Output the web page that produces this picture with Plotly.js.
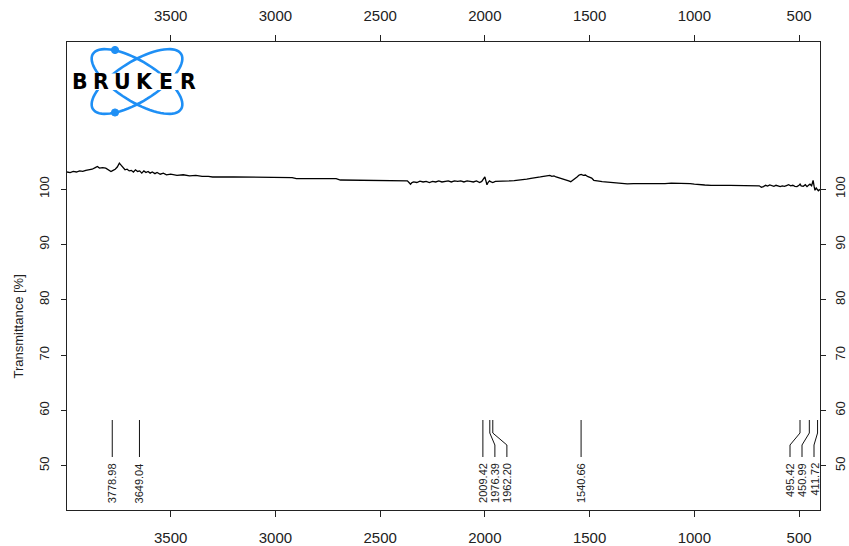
<!DOCTYPE html>
<html>
<head>
<meta charset="utf-8">
<script src="https://cdn.plot.ly/plotly-3.0.1.min.js"></script>
<style>html,body{margin:0;padding:0;background:#fff;}#chart{width:849px;height:546px;}</style>
</head>
<body>
<div id="chart"></div>
<script>
// ---- Data ----
const wavenumber = [
  3995,3980,3965,3950,3935,3920,3905,3890,3875,3860,3850,3840,3825,3810,3795,3785,3775,3765,3755,3745,
  3738,3728,3718,3708,3698,3688,3678,3668,3658,3648,3638,3628,3618,3608,3598,3588,3575,3565,3550,3535,
  3520,3500,3470,3440,3410,3380,3350,3320,3300,3200,3100,3000,2920,2900,2800,2710,2690,2600,2500,2400,
  2370,2360,2355,2348,2340,2325,2310,2295,2280,2265,2250,2235,2220,2205,2190,2175,2160,2145,2130,2115,
  2100,2085,2070,2055,2040,2025,2015,2005,2000,1995,1990,1985,1978,1970,1962,1950,1935,1920,1900,1880,
  1860,1840,1820,1800,1780,1765,1750,1735,1720,1705,1690,1680,1670,1660,1650,1640,1630,1615,1600,1590,
  1580,1570,1560,1550,1540,1530,1520,1510,1500,1490,1480,1470,1455,1440,1425,1410,1395,1380,1350,1320,
  1290,1260,1230,1200,1170,1140,1110,1080,1050,1020,1000,980,950,920,890,860,830,800,770,740,
  710,690,680,670,660,650,640,630,620,610,600,590,580,570,560,550,540,530,520,510,
  500,495,490,480,470,462,455,448,440,433,428,424,418,414,408,403,400
];
const transmittance = [
  103.1,103.0,103.2,103.1,103.3,103.2,103.4,103.5,103.6,103.9,104.1,103.8,103.9,103.8,103.5,103.2,103.4,103.6,104.0,104.7,
  104.4,103.9,103.5,103.6,103.3,103.4,103.1,103.5,103.2,103.3,102.9,103.3,103.0,103.2,102.9,103.1,102.8,103.0,102.7,102.9,
  102.6,102.7,102.5,102.6,102.4,102.5,102.3,102.3,102.2,102.2,102.2,102.15,102.1,101.9,101.9,101.9,101.65,101.6,101.6,101.55,
  101.5,101.1,100.9,101.2,101.3,101.2,101.45,101.3,101.4,101.2,101.4,101.3,101.5,101.3,101.4,101.5,101.3,101.5,101.4,101.5,
  101.3,101.5,101.4,101.3,101.5,101.2,101.4,101.9,102.2,101.5,100.8,101.2,101.5,101.3,101.2,101.4,101.45,101.4,101.5,101.5,
  101.55,101.6,101.7,101.8,101.95,102.0,102.1,102.2,102.3,102.35,102.5,102.3,102.4,102.2,102.1,102.0,101.9,101.7,101.5,101.35,
  101.6,101.8,102.2,102.55,102.65,102.5,102.55,102.3,102.2,102.0,101.6,101.5,101.45,101.35,101.3,101.2,101.1,101.05,101.0,100.95,
  101.0,101.0,100.95,101.0,101.05,101.0,101.1,101.1,101.05,101.0,100.9,100.8,100.75,100.7,100.75,100.7,100.7,100.65,100.7,100.65,
  100.6,100.6,100.35,100.45,100.7,100.55,100.75,100.6,100.5,100.7,100.55,100.45,100.6,100.5,100.65,100.8,100.6,100.7,100.5,100.45,
  100.7,100.9,100.6,100.5,100.8,100.45,100.7,100.9,100.6,101.6,100.5,99.8,100.2,100.0,99.7,99.9,99.8
];
const peakWavenumbers = [3778.98, 3649.04, 2009.42, 1976.39, 1962.20, 1540.66, 495.42, 450.99, 411.72];
const peakLabels = ["3778.98", "3649.04", "2009.42", "1976.39", "1962.20", "1540.66", "495.42", "450.99", "411.72"];
const xTickValues = [3500, 3000, 2500, 2000, 1500, 1000, 500];
const yTickValues = [50, 60, 70, 80, 90, 100];
const logoLetters = ["B", "R", "U", "K", "E", "R"];

// ---- Layout geometry ----
const W = 849, H = 546;
const M = {l: 67, r: 29, t: 42, b: 36};
const XR = [3995, 400];
const YR = [42, 126.6];
const plotW = W - M.l - M.r, plotH = H - M.t - M.b;
const pxToPaperX = px => (px - M.l) / plotW;
const pxToPaperY = py => (H - M.b - py) / plotH;
const wnToPx = wn => M.l + (XR[0] - wn) / (XR[0] - XR[1]) * plotW;
const pxToWn = px => XR[0] - (px - M.l) / plotW * (XR[0] - XR[1]);

const ink = '#222';
const tickFontX = {family: 'Liberation Sans, Arial, sans-serif', size: 15, color: ink};
const tickFontY = {family: 'Liberation Sans, Arial, sans-serif', size: 13, color: ink};

const shapes = [];
const annotations = [];

// ---- Peak markers with label spreading ----
const peakPx = peakWavenumbers.map(wnToPx);
const order = peakPx.map((p, i) => i).sort((a, b) => peakPx[a] - peakPx[b]);
const gap = 12, rightLimit = 814;
const labelPx = new Array(peakPx.length);
order.forEach((idx, k) => {
  labelPx[idx] = k === 0 ? peakPx[idx] : Math.max(peakPx[idx], labelPx[order[k - 1]] + gap);
});
for (let k = order.length - 1; k >= 0; k--) {
  const idx = order[k];
  const lim = k === order.length - 1 ? rightLimit : labelPx[order[k + 1]] - gap;
  labelPx[idx] = Math.min(labelPx[idx], lim);
}
const yTop = pxToPaperY(420), yJ1 = pxToPaperY(433), yJ2 = pxToPaperY(445), yBot = pxToPaperY(457), yText = pxToPaperY(461);
peakWavenumbers.forEach((wn, i) => {
  const lx = pxToWn(labelPx[i]);
  shapes.push({
    type: 'path', xref: 'x', yref: 'paper',
    path: `M${wn},${yTop} L${wn},${yJ1} L${lx},${yJ2} L${lx},${yBot}`,
    line: {color: '#111', width: 1}
  });
  annotations.push({
    xref: 'x', yref: 'paper', x: lx, y: yText, text: peakLabels[i],
    showarrow: false, textangle: -90, xanchor: 'center', yanchor: 'top',
    font: {family: 'Liberation Sans Narrow, Liberation Sans, Arial, sans-serif', size: 11, color: ink}
  });
});

// ---- Logo (decoration) ----
function ellipsePath(cx, cy, a, b, thetaDeg) {
  const t = thetaDeg * Math.PI / 180;
  let d = '';
  for (let k = 0; k <= 72; k++) {
    const u = 2 * Math.PI * k / 72;
    const ex = a * Math.cos(u), ey = b * Math.sin(u);
    const px = cx + ex * Math.cos(t) - ey * Math.sin(t);
    const py = cy + ex * Math.sin(t) + ey * Math.cos(t);
    d += (k === 0 ? 'M' : 'L') + pxToPaperX(px).toFixed(5) + ',' + pxToPaperY(py).toFixed(5) + ' ';
  }
  return d + 'Z';
}
const logoBlue = '#1e8ff5';
shapes.push({type: 'path', xref: 'paper', yref: 'paper', path: ellipsePath(137, 81.5, 52, 20, 32), line: {color: logoBlue, width: 2.6}, layer: 'above'});
shapes.push({type: 'path', xref: 'paper', yref: 'paper', path: ellipsePath(137, 81.5, 52, 20, -32), line: {color: logoBlue, width: 2.6}, layer: 'above'});
[[115, 50], [115, 112.5]].forEach(([cx, cy]) => {
  shapes.push({type: 'circle', xref: 'paper', yref: 'paper',
    x0: pxToPaperX(cx - 3.6), x1: pxToPaperX(cx + 3.6), y0: pxToPaperY(cy + 3.6), y1: pxToPaperY(cy - 3.6),
    fillcolor: logoBlue, line: {color: logoBlue, width: 1}, layer: 'above'});
});
shapes.push({type: 'rect', xref: 'paper', yref: 'paper',
  x0: pxToPaperX(70), x1: pxToPaperX(201), y0: pxToPaperY(90), y1: pxToPaperY(73.5),
  fillcolor: '#fff', line: {width: 0}, layer: 'above'});
logoLetters.forEach((ch, i) => {
  annotations.push({xref: 'paper', yref: 'paper', x: pxToPaperX(79.5 + i * 21.7), y: pxToPaperY(82),
    text: '<b>' + ch + '</b>', showarrow: false, xanchor: 'center', yanchor: 'middle',
    font: {family: 'DejaVu Sans, sans-serif', size: 20.5, color: '#000', weight: 900}});
});

// ---- Y axis title (centred on the 50-100 band, as in reference) ----
annotations.push({xref: 'paper', yref: 'paper', x: pxToPaperX(18), y: pxToPaperY(326.5),
  text: 'Transmittance [%]', showarrow: false, textangle: -90, xanchor: 'center', yanchor: 'middle',
  font: {family: 'Liberation Sans, Arial, sans-serif', size: 13, color: ink}});

const baseX = {
  range: XR, tickvals: xTickValues, ticktext: xTickValues.map(String),
  ticks: 'outside', ticklen: 6, tickwidth: 1, tickcolor: ink,
  showline: true, linecolor: ink, linewidth: 1, showgrid: false, zeroline: false,
  tickfont: tickFontX, ticklabelstandoff: 8, fixedrange: true
};
const baseY = {
  range: YR, tickvals: yTickValues, ticktext: yTickValues.map(String),
  ticks: 'outside', ticklen: 5, tickwidth: 1, tickcolor: ink, tickangle: -90,
  showline: true, linecolor: ink, linewidth: 1, showgrid: false, zeroline: false,
  tickfont: tickFontY, fixedrange: true
};

const traces = [
  {x: wavenumber, y: transmittance, type: 'scatter', mode: 'lines',
   line: {color: '#000', width: 1.3}, showlegend: false, hoverinfo: 'skip'},
  {x: [], y: [], xaxis: 'x2', yaxis: 'y2', type: 'scatter', mode: 'lines', showlegend: false}
];

const layout = {
  width: W, height: H,
  margin: M,
  paper_bgcolor: '#fff', plot_bgcolor: '#fff',
  showlegend: false,
  xaxis: Object.assign({}, baseX, {side: 'bottom', anchor: 'y'}),
  xaxis2: Object.assign({}, baseX, {side: 'top', overlaying: 'x', anchor: 'y'}),
  yaxis: Object.assign({}, baseY, {side: 'left', anchor: 'x', ticklabelstandoff: 7}),
  yaxis2: Object.assign({}, baseY, {side: 'right', overlaying: 'y', anchor: 'x', ticklabelstandoff: 3}),
  shapes: shapes,
  annotations: annotations
};

Plotly.newPlot('chart', traces, layout, {staticPlot: true, displayModeBar: false});
</script>
</body>
</html>
